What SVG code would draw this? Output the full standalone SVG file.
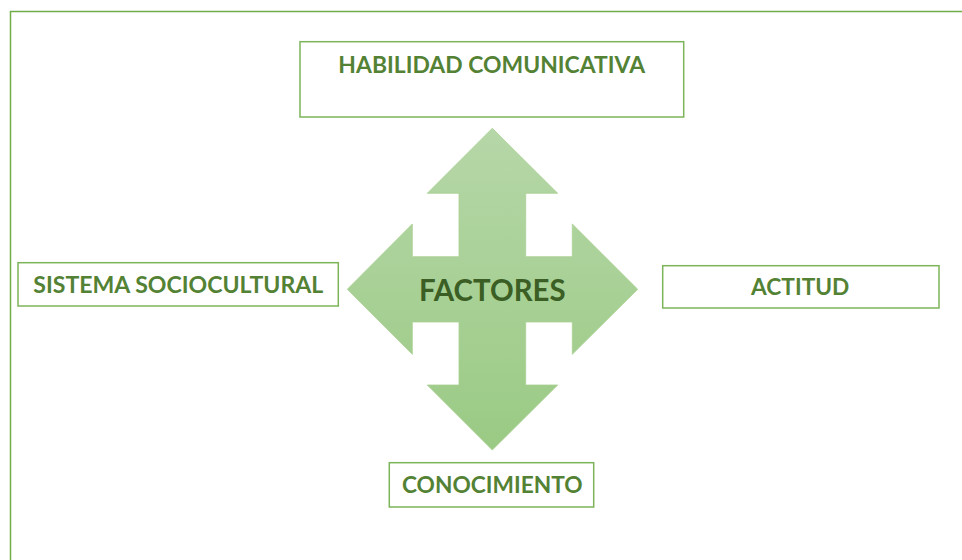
<svg xmlns="http://www.w3.org/2000/svg" width="962" height="560" viewBox="0 0 962 560">
<defs>
<linearGradient id="g" x1="0" y1="128" x2="0" y2="450" gradientUnits="userSpaceOnUse">
<stop offset="0" stop-color="#b6d7a8"/>
<stop offset="1" stop-color="#9aca84"/>
</linearGradient>
<style>
.box{fill:#ffffff;stroke:#7cb45a;stroke-width:1.5}
.lbl{font-family:Lato,"Open Sans","Liberation Sans",sans-serif;font-weight:bold;font-size:23px;fill:#548235}
.ctr{font-family:Lato,"Open Sans","Liberation Sans",sans-serif;font-weight:bold;font-size:30px;fill:#3b5e24}
</style>
</defs>
<rect width="962" height="560" fill="#ffffff"/>
<path d="M10.5,570 V11.5 H975" fill="none" stroke="#70ad47" stroke-width="1.5"/>
<g id="factores">
<path d="M492.3,128.3 L557.7,193.3 L525.7,193.3 L525.7,256.7 L572.3,256.7 L572.3,224 L637.7,289.3 L572.3,354.3 L572.3,322 L525.7,322 L525.7,385 L557.7,385 L492.3,450 L427.3,385 L459,385 L459,322 L412.3,322 L412.3,354.3 L347.3,289.3 L412.3,224 L412.3,256.7 L459,256.7 L459,193.3 L427.3,193.3 Z" fill="url(#g)" stroke="#a9d092" stroke-width="0.8"/>
<text class="ctr" x="492.3" y="301" text-anchor="middle" textLength="146.7" lengthAdjust="spacingAndGlyphs">FACTORES</text>
</g>
<g id="habilidad">
<rect class="box" x="300" y="41.7" width="383.7" height="75.3"/>
<text class="lbl" x="491.7" y="72.7" text-anchor="middle" textLength="306.7" lengthAdjust="spacingAndGlyphs">HABILIDAD COMUNICATIVA</text>
</g>
<g id="sistema">
<rect class="box" x="18" y="262.7" width="320.3" height="43.3"/>
<text class="lbl" x="178.3" y="293.3" text-anchor="middle" textLength="290" lengthAdjust="spacingAndGlyphs">SISTEMA SOCIOCULTURAL</text>
</g>
<g id="actitud">
<rect class="box" x="662.7" y="265.7" width="276.3" height="42.3"/>
<text class="lbl" x="800.2" y="295" text-anchor="middle" textLength="98.3" lengthAdjust="spacingAndGlyphs">ACTITUD</text>
</g>
<g id="conocimiento">
<rect class="box" x="389.3" y="462.7" width="204.4" height="44.3"/>
<text class="lbl" x="492.3" y="493.3" text-anchor="middle" textLength="180.7" lengthAdjust="spacingAndGlyphs">CONOCIMIENTO</text>
</g>
<g id="connectors"></g>
</svg>
